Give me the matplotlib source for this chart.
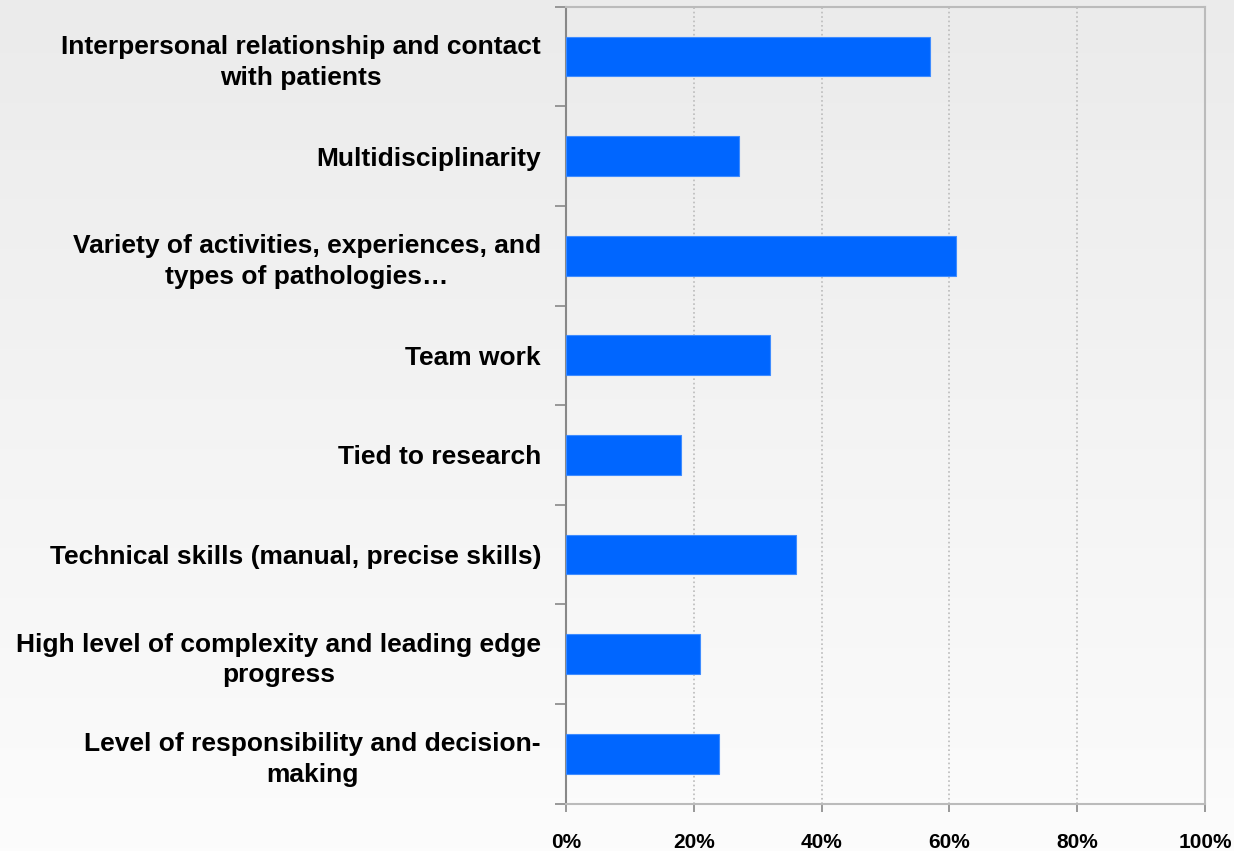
import matplotlib.pyplot as plt
import numpy as np

# Data (top to bottom)
categories = [
    "Interpersonal relationship and contact\nwith patients",
    "Multidisciplinarity",
    "Variety of activities, experiences, and\ntypes of pathologies\u2026",
    "Team work",
    "Tied to research",
    "Technical skills (manual, precise skills)",
    "High level of complexity and leading edge\nprogress",
    "Level of responsibility and decision-\nmaking",
]
values = [57, 27, 61, 32, 18, 36, 21, 24]
x_ticks = [0, 20, 40, 60, 80, 100]
x_tick_labels = ["0%", "20%", "40%", "60%", "80%", "100%"]

plt.rcParams['font.family'] = ['Liberation Sans', 'DejaVu Sans']

fig = plt.figure(figsize=(12.34, 8.51), dpi=100)

# gradient background
bg = fig.add_axes([0, 0, 1, 1], zorder=-10)
grad = np.linspace(0, 1, 256).reshape(-1, 1)
bg.imshow(grad, aspect='auto', cmap=plt.matplotlib.colors.LinearSegmentedColormap.from_list(
    'bg', ['#ebebeb', '#fcfcfc']), extent=[0, 1, 0, 1], origin='upper')
bg.axis('off')

ax = fig.add_axes([566 / 1234, 1 - 803.5 / 851, (1205 - 566) / 1234, (803.5 - 6.7) / 851])
ax.patch.set_alpha(0)

n = len(categories)
y = np.arange(n)
ax.barh(y, values, height=0.4, color='#0066ff', edgecolor='#3f8cff', linewidth=0.8, zorder=3)

ax.set_xlim(0, 100)
ax.set_ylim(n - 0.5, -0.5)

ax.set_xticks(x_ticks)
ax.set_xticklabels(x_tick_labels, fontsize=15, fontweight='bold')
ax.tick_params(axis='x', direction='out', length=6, width=1.2, color='#888888', pad=15)

ax.set_yticks(y)
ax.set_yticklabels(categories, fontsize=19, fontweight='bold', multialignment='center',
                   linespacing=1.35)
ax.tick_params(axis='y', which='major', length=0, pad=18)
ax.set_yticks(np.arange(n + 1) - 0.5, minor=True)
ax.tick_params(axis='y', which='minor', direction='out', length=8, width=1.2, color='#888888')

ax.grid(axis='x', linestyle=':', color='#bbbbbb', linewidth=1.2, zorder=0)

for side in ['top', 'right', 'bottom']:
    ax.spines[side].set_color('#bbbbbb')
    ax.spines[side].set_linewidth(1.5)
ax.spines['left'].set_color('#888888')
ax.spines['left'].set_linewidth(1.5)

fig.savefig('out.png', dpi=100)
